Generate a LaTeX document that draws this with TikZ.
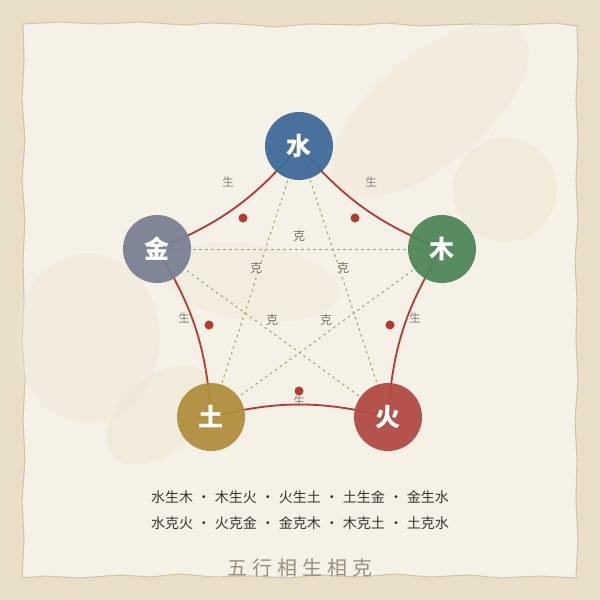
\documentclass[tikz,border=0pt]{standalone}
\usepackage{fontspec}
\newfontfamily\cjk{Noto Sans CJK SC}
\usetikzlibrary{calc}
\definecolor{outerbg}{HTML}{E9DFC8}
\definecolor{paper}{HTML}{F6F1E6}
\definecolor{paperedge}{HTML}{D3C6A4}
\definecolor{blob}{HTML}{EDE4D2}
\definecolor{cwater}{HTML}{3F6A9A}
\definecolor{cmetal}{HTML}{798090}
\definecolor{cwood}{HTML}{4E8659}
\definecolor{cearth}{HTML}{B08D3C}
\definecolor{cfire}{HTML}{B04A42}
\definecolor{sheng}{HTML}{B23A2E}
\definecolor{ke}{HTML}{A5A878}
\definecolor{lbl}{HTML}{85807A}
\definecolor{txt}{HTML}{3A3430}
\definecolor{ttl}{HTML}{9A9182}
\newcommand{\sepdot}{\makebox[22pt]{·}}
\tikzset{
  elem/.style={circle, minimum size=68pt, inner sep=0pt, fill opacity=0.94, text opacity=1, text=white, font=\cjk\bfseries\fontsize{25}{25}\selectfont},
  shengline/.style={draw=sheng, line width=1.8pt},
  keline/.style={draw=ke, line width=1.1pt, dash pattern=on 2.5pt off 3.5pt},
  shenglbl/.style={text=lbl, font=\cjk\fontsize{11.5}{12}\selectfont, inner sep=0pt},
  kelbl/.style={text=lbl!90!black, font=\cjk\fontsize{12}{12}\selectfont, inner sep=0pt},
  dotmark/.style={circle, fill=sheng, minimum size=9pt, inner sep=0pt},
  bottomtxt/.style={text=txt, font=\cjk\fontsize{14}{14}\selectfont},
}
\begin{document}
\begin{tikzpicture}[x=1pt,y=1pt]
\useasboundingbox (0,0) rectangle (600,600);
\fill[outerbg] (0,0) rectangle (600,600);
% paper with wavy edge
\fill[paper, draw=paperedge, line width=1.1pt]
 (23,576) -- (60,578) -- (100,576) -- (140,578) -- (185,575) -- (210,577) -- (240,576) -- (275,573) -- (310,576) -- (360,575) -- (385,577) -- (420,574) -- (470,576) -- (510,575) -- (555,577) -- (577,574)
 -- (578,540) -- (576,500) -- (578,460) -- (576,420) -- (578,380) -- (575,340) -- (577,300) -- (576,260) -- (578,220) -- (575,180) -- (577,140) -- (576,100) -- (578,60) -- (576,22)
 -- (540,24) -- (500,22) -- (470,25) -- (430,23) -- (395,26) -- (360,23) -- (320,25) -- (290,22) -- (250,24) -- (215,23) -- (180,26) -- (150,23) -- (120,25) -- (80,22) -- (45,24) -- (22,22)
 -- (24,60) -- (22,100) -- (25,140) -- (23,180) -- (25,220) -- (22,260) -- (24,300) -- (23,340) -- (25,380) -- (22,420) -- (25,460) -- (22,500) -- (24,540) -- cycle;
% faint background blobs
\begin{scope}[fill=blob]
\fill[fill opacity=0.4, rotate around={40:(430,490)}] (430,490) ellipse [x radius=120, y radius=55];
\fill[fill opacity=0.45] (505,410) circle [radius=52];
\fill[fill opacity=0.4] (88,262) ellipse [x radius=72, y radius=85];
\fill[fill opacity=0.45, rotate around={40:(160,185)}] (160,185) ellipse [x radius=62, y radius=38];
\fill[fill opacity=0.3, rotate around={-8:(250,318)}] (250,318) ellipse [x radius=90, y radius=38];
\end{scope}
% element positions
\coordinate (pW) at (299,454);
\coordinate (pM) at (157,351);
\coordinate (pWd) at (442,351);
\coordinate (pE) at (211,183);
\coordinate (pF) at (388,183);
% ke lines
\draw[keline] (pW) -- (pF);
\draw[keline] (pF) -- (pM);
\draw[keline, draw=ke!75!gray, line width=0.9pt, dash pattern=on 3pt off 3pt] (pM) -- (pWd);
\draw[keline] (pWd) -- (pE);
\draw[keline] (pE) -- (pW);
% sheng arcs
\draw[shengline] (pW) to[bend right=14] (pWd);
\draw[shengline] (pWd) to[bend right=14] (pF);
\draw[shengline] (pF) to[bend right=14] (pE);
\draw[shengline] (pE) to[bend right=14] (pM);
\draw[shengline] (pM) to[bend right=14] (pW);
% element nodes
\node[elem, fill=cwater] (water) at (pW) {水};
\node[elem, fill=cmetal] (metal) at (pM) {金};
\node[elem, fill=cwood] (wood) at (pWd) {木};
\node[elem, fill=cearth] (earth) at (pE) {土};
\node[elem, fill=cfire] (fire) at (pF) {火};
% dots
\node[dotmark] (d1) at (243,382) {};
\node[dotmark] (d2) at (355,382) {};
\node[dotmark] (d3) at (209,275) {};
\node[dotmark] (d4) at (390,275) {};
\node[dotmark] (d5) at (299,209) {};
% sheng labels
\node[shenglbl] (s1) at (228,418) {生};
\node[shenglbl] (s2) at (371,418) {生};
\node[shenglbl] (s3) at (184,282) {生};
\node[shenglbl] (s4) at (415,282) {生};
\node[shenglbl] (s5) at (299,199) {生};
% ke labels
\node[kelbl] (k1) at (299,364) {克};
\node[kelbl] (k2) at (256,332) {克};
\node[kelbl] (k3) at (343,332) {克};
\node[kelbl] (k4) at (272,280) {克};
\node[kelbl] (k5) at (326,280) {克};
% bottom texts
\node[bottomtxt] (line1) at (300,103) {水生木\sepdot 木生火\sepdot 火生土\sepdot 土生金\sepdot 金生水};
\node[bottomtxt] (line2) at (300,77) {水克火\sepdot 火克金\sepdot 金克木\sepdot 木克土\sepdot 土克水};
\node[text=ttl, font=\cjk\fontsize{20}{20}\selectfont] (title) at (300,32) {五\hspace{5pt}行\hspace{5pt}相\hspace{5pt}生\hspace{5pt}相\hspace{5pt}克};
\end{tikzpicture}
\end{document}
